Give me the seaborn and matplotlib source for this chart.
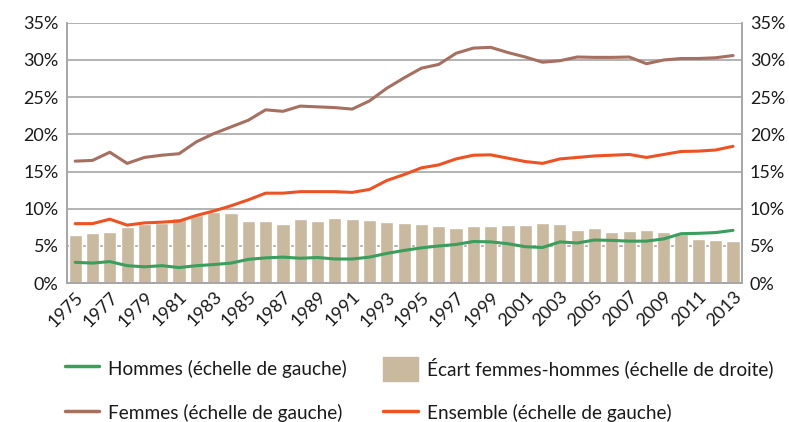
import matplotlib
matplotlib.use("Agg")
import matplotlib.pyplot as plt
import matplotlib.patches as mpatches
from matplotlib.lines import Line2D
import numpy as np
import pandas as pd
import seaborn as sns

years = list(range(1975, 2014))

femmes = [16.4, 16.5, 17.6, 16.1, 16.9, 17.2, 17.4, 19.0, 20.1, 21.0,
          21.9, 23.3, 23.1, 23.8, 23.7, 23.6, 23.4, 24.5, 26.2, 27.6,
          28.9, 29.4, 30.9, 31.6, 31.7, 31.0, 30.4, 29.7, 29.9, 30.4,
          30.35, 30.35, 30.4, 29.5, 30.0, 30.2, 30.2, 30.3, 30.6]

ensemble = [8.0, 8.0, 8.6, 7.8, 8.1, 8.2, 8.35, 9.1, 9.7, 10.4,
            11.2, 12.1, 12.1, 12.3, 12.3, 12.3, 12.2, 12.6, 13.8, 14.6,
            15.5, 15.9, 16.7, 17.2, 17.25, 16.8, 16.35, 16.1, 16.7, 16.9,
            17.1, 17.2, 17.3, 16.9, 17.3, 17.7, 17.75, 17.9, 18.4]

hommes = [2.8, 2.7, 2.9, 2.35, 2.2, 2.35, 2.1, 2.35, 2.5, 2.7,
          3.2, 3.4, 3.5, 3.35, 3.45, 3.25, 3.25, 3.5, 4.0, 4.4,
          4.75, 5.0, 5.2, 5.6, 5.55, 5.3, 4.9, 4.8, 5.55, 5.4,
          5.8, 5.75, 5.65, 5.65, 5.95, 6.65, 6.7, 6.8, 7.1]

ecart = [6.45, 6.7, 6.85, 7.55, 8.0, 8.1, 8.7, 9.2, 9.6, 9.45,
         8.35, 8.35, 8.0, 8.6, 8.35, 8.75, 8.6, 8.5, 8.25, 8.15,
         7.95, 7.7, 7.4, 7.7, 7.7, 7.8, 7.8, 8.1, 7.95, 7.1,
         7.4, 6.85, 7.0, 7.1, 6.85, 6.6, 5.9, 5.8, 5.65]

c_hommes = "#3a9e5c"
c_femmes = "#a66f5f"
c_ensemble = "#ee5222"
c_ecart = "#c9b99f"
c_grid = "#a6a6a6"
c_text = "#1a1a1a"

df = pd.DataFrame({"annee": years, "pos": np.arange(len(years)),
                   "Hommes": hommes, "Femmes": femmes,
                   "Ensemble": ensemble, "Ecart": ecart})

sns.set_theme(style="white")
plt.rcParams["font.family"] = ["Lato", "DejaVu Sans"]
plt.rcParams["text.color"] = c_text

fig = plt.figure(figsize=(7.89, 4.22), dpi=100)
ax = fig.add_axes([0.085, 0.329, 0.855, 0.617])

# bars on the base axis (right scale), lines on the twin on top
sns.barplot(data=df, x="pos", y="Ecart", color=c_ecart, width=0.76,
            saturation=1, ax=ax, zorder=2)
ax2 = ax.twinx()
for col, c in [("Hommes", c_hommes), ("Femmes", c_femmes), ("Ensemble", c_ensemble)]:
    sns.lineplot(data=df, x="pos", y=col, color=c, linewidth=2.2, ax=ax2)

for a in (ax, ax2):
    a.set_ylim(0, 35)
    a.set_xlim(-0.47, len(years) - 0.5)
    a.set_yticks(np.arange(0, 36, 5))
    a.set_yticklabels([f"{v}%" for v in range(0, 36, 5)], fontsize=13)
    a.set_xlabel("")
    a.set_ylabel("")
    for s in a.spines.values():
        s.set_color(c_grid)
        s.set_linewidth(1.2)
    a.spines["top"].set_visible(False)
    a.tick_params(axis="y", length=0, pad=6, labelcolor=c_text)

ax.yaxis.grid(True, color=c_grid, linewidth=1.2, zorder=0)
ax.set_axisbelow(True)
ax2.grid(False)
ax2.tick_params(axis="y", labelright=True, labelleft=False)
ax.tick_params(axis="y", labelleft=True, labelright=False)

ax.set_xticks(np.arange(0, len(years), 2))
ax.set_xticklabels([str(y) for y in years[::2]], rotation=45, ha="right",
                   rotation_mode="anchor", fontsize=13, color=c_text)
ax.tick_params(axis="x", which="major", length=0, pad=4)
ax.set_xticks(np.arange(len(years)) + 0.5, minor=True)
ax.tick_params(axis="x", which="minor", direction="in", length=5,
               color=c_grid, width=1.2)

handles = [
    Line2D([], [], color=c_hommes, linewidth=2.5),
    Line2D([], [], color=c_femmes, linewidth=2.5),
    mpatches.Patch(color=c_ecart),
    Line2D([], [], color=c_ensemble, linewidth=2.5),
]
labels = [
    "Hommes (échelle de gauche)",
    "Femmes (échelle de gauche)",
    "Écart femmes-hommes (échelle de droite)",
    "Ensemble (échelle de gauche)",
]
fig.legend(handles, labels, ncol=2, loc="upper left",
           bbox_to_anchor=(0.082, 0.153), frameon=False, fontsize=13.7,
           handlelength=1.8, handleheight=1.5, handletextpad=0.5,
           columnspacing=1.9, labelspacing=1.1, borderaxespad=0,
           borderpad=0)

fig.savefig("out.png", dpi=100)
